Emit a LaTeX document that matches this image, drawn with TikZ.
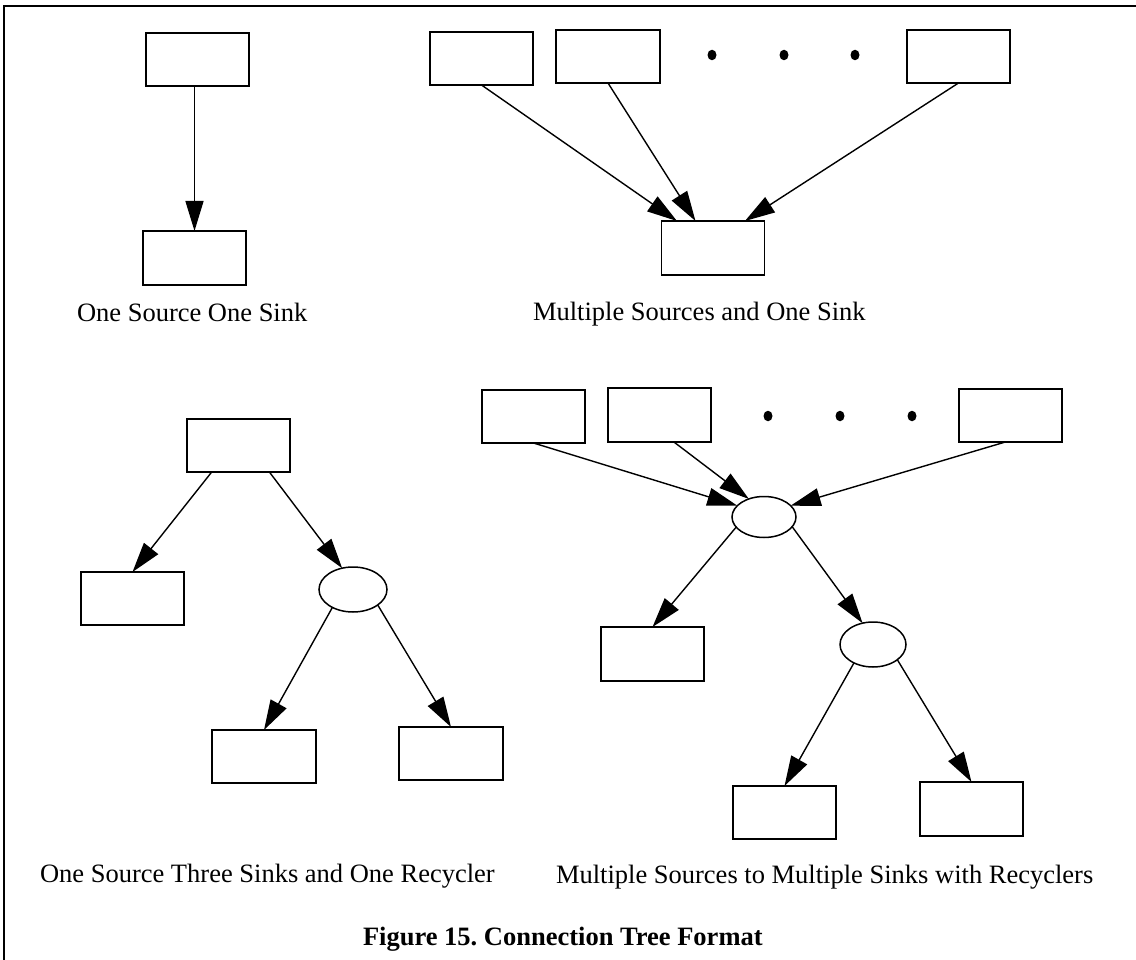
\documentclass[tikz,border=0pt]{standalone}
\usepackage{fontspec}
\setmainfont{Liberation Serif}
\usetikzlibrary{shapes.geometric,arrows.meta,calc}

\tikzset{
  blk/.style={draw, line width=1.7pt, rectangle, inner sep=0pt, outer sep=0pt,
              minimum width=103pt, minimum height=53pt},
  rec/.style={draw, line width=1.5pt, ellipse, inner sep=0pt, outer sep=0pt},
  arr/.style={line width=1.4pt, -{Triangle[length=30pt,width=18pt]}},
  lbl/.style={anchor=base west, inner sep=0pt, outer sep=0pt,
              font=\fontsize{26.5}{30}\selectfont},
  ttl/.style={lbl, font=\fontsize{26.5}{30}\selectfont\bfseries},
  dotmark/.style={fill=black, ellipse, inner sep=0pt, minimum width=9pt, minimum height=10.5pt}
}

\begin{document}
\frenchspacing
\begin{tikzpicture}[x=1pt,y=-1pt]
  \useasboundingbox (0,0) rectangle (1136,960);

  % frame
  \draw[line width=1.7pt] (4,962) -- (4,6) -- (1138,6);

  % ---- one source, one sink
  \node[blk] (A1) at (197.5,59.5) {};
  \node[blk, minimum height=54pt] (A2) at (194.5,258) {};
  \draw[arr] (A1.south -| A2.north) -- (A2.north);
  \node[lbl] (L1) at (77,322) {One Source One Sink};

  % ---- multiple sources, one sink
  \node[blk] (B1) at (481.5,58.5) {};
  \node[blk, minimum width=104pt] (B2) at (608,56.5) {};
  \node[dotmark] (b1) at (712,55) {};
  \node[dotmark] (b2) at (784,55) {};
  \node[dotmark] (b3) at (855,55) {};
  \node[blk] (B3) at (958.5,56.5) {};
  \node[blk, minimum height=54pt] (S) at (713,248) {};
  \draw[arr] (B1.south) -- ($(S.north west)!0.15!(S.north east)$);
  \draw[arr] (B2.south) -- ($(S.north west)!0.33!(S.north east)$);
  \draw[arr] (B3.south) -- ($(S.north west)!0.81!(S.north east)$);
  \node[lbl] (L2) at (533,320.5) {Multiple Sources and One Sink};

  % ---- one source, three sinks, one recycler
  \node[blk] (C1) at (238.5,445.5) {};
  \node[blk] (C2) at (132.5,598.5) {};
  \node[rec, minimum width=68pt, minimum height=45pt] (E1) at (353,589.5) {};
  \node[blk, minimum width=104pt] (C3) at (264,756.5) {};
  \node[blk, minimum width=104pt] (C4) at (451,753.5) {};
  \draw[arr] ($(C1.south west)!0.24!(C1.south east)$) -- (C2.north);
  \draw[arr] ($(C1.south west)!0.80!(C1.south east)$) -- (E1.117);
  \draw[arr] (E1.221) -- (C3.north);
  \draw[arr] (E1.328) -- (C4.north);
  \node[lbl] (L3) at (40,882) {One Source Three Sinks and One Recycler};

  % ---- multiple sources, multiple sinks, recyclers
  \node[blk] (D1) at (533.5,416.5) {};
  \node[blk, minimum height=54pt] (D2) at (659.5,415) {};
  \node[dotmark] (d1) at (768,416) {};
  \node[dotmark] (d2) at (840,416) {};
  \node[dotmark] (d3) at (912,416) {};
  \node[blk] (D4) at (1010.5,415.5) {};
  \node[rec, minimum width=64pt, minimum height=41pt] (E2) at (764,517) {};
  \node[blk, minimum height=54pt] (D5) at (652.5,654) {};
  \node[rec, minimum width=66pt, minimum height=45pt] (E3) at (873,644.5) {};
  \node[blk] (D6) at (784.5,812.5) {};
  \node[blk, minimum height=54pt] (D7) at (971.5,809) {};
  \draw[arr] (D1.south) -- (E2.157);
  \draw[arr] ($(D2.south west)!0.64!(D2.south east)$) -- (E2.130);
  \draw[arr] ($(D4.south west)!0.45!(D4.south east)$) -- (E2.23);
  \draw[arr] (E2.200) -- (D5.north);
  \draw[arr] (E2.341) -- (E3.116);
  \draw[arr] (E3.224) -- (D6.north);
  \draw[arr] (E3.328) -- (D7.north);
  \node[lbl] (L4) at (556,883) {Multiple Sources to Multiple Sinks with Recyclers};

  % caption
  \node[ttl] (T) at (363,945) {Figure 15. Connection Tree Format};
\end{tikzpicture}
\end{document}
